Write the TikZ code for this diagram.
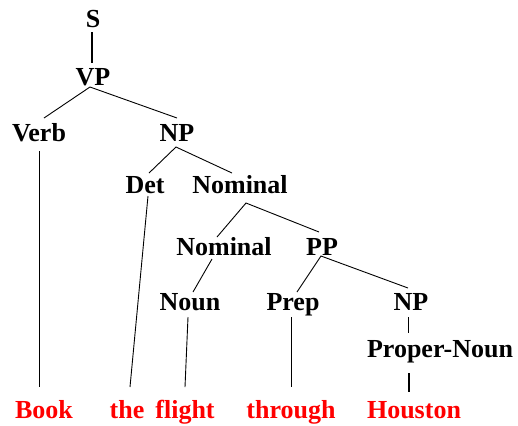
\documentclass[tikz,border=0pt]{standalone}
\usepackage{fontspec}
\setmainfont{Liberation Serif}
\begin{document}
\begin{tikzpicture}[x=1bp,y=-1bp,
  lbl/.style={anchor=base,inner sep=0pt,font=\fontsize{26.1}{30}\selectfont\bfseries},
  word/.style={lbl,text=red},
  edge/.style={line width=0.9bp,black},
  thick edge/.style={line width=1.8bp,black}]
\useasboundingbox (0,0) rectangle (518,425);
% labels
\node[lbl] (S) at (93,27) {S};
\node[lbl] (VP) at (93,85) {VP};
\node[lbl] (Verb) at (39,141) {Verb};
\node[lbl] (NP1) at (177,141) {NP};
\node[lbl] (Det) at (145,193) {Det};
\node[lbl] (Nom1) at (240,193) {Nominal};
\node[lbl] (Nom2) at (224,255) {Nominal};
\node[lbl] (PP) at (322,255) {PP};
\node[lbl] (Noun) at (190,310) {Noun};
\node[lbl] (Prep) at (293,310) {Prep};
\node[lbl] (NP2) at (411,310) {NP};
\node[lbl] (PN) at (440,357) {Proper-Noun};
\node[word] (Book) at (44,418) {Book};
\node[word] (the) at (127,418) {the};
\node[word] (flight) at (185,418) {flight};
\node[word] (through) at (291,418) {through};
\node[word] (Houston) at (414,418) {Houston};
% connector end points
\coordinate (s1) at (92,32);   \coordinate (vp0) at (92,63);
\coordinate (vp1) at (90,87);  \coordinate (verb0) at (44,118); \coordinate (np0) at (177,118);
\coordinate (np1) at (176,147); \coordinate (det0) at (149,173); \coordinate (nom0) at (232,173);
\coordinate (verb1) at (39,151); \coordinate (book0) at (39,387);
\coordinate (det1) at (148,196); \coordinate (the0) at (130,387);
\coordinate (nom1) at (246,203); \coordinate (nomb0) at (217,237); \coordinate (pp0) at (319,232);
\coordinate (nomb1) at (212,259); \coordinate (noun0) at (193,292);
\coordinate (pp1) at (321,256); \coordinate (prep0) at (297,292); \coordinate (npb0) at (408,288);
\coordinate (noun1) at (188,317); \coordinate (flight0) at (185,387);
\coordinate (prep1) at (291,317); \coordinate (through0) at (291,387);
\coordinate (npb1) at (408,317); \coordinate (pn0) at (408,333);
\coordinate (pn1) at (409,373); \coordinate (houston0) at (409,392);
% connectors
\draw[thick edge] (s1) -- (vp0);
\draw[edge] (verb0) -- (vp1) -- (np0);
\draw[edge] (det0) -- (np1) -- (nom0);
\draw[edge] (verb1) -- (book0);
\draw[edge] (det1) -- (the0);
\draw[edge] (nomb0) -- (nom1) -- (pp0);
\draw[edge] (nomb1) -- (noun0);
\draw[edge] (prep0) -- (pp1) -- (npb0);
\draw[edge] (noun1) -- (flight0);
\draw[edge] (prep1) -- (through0);
\draw[edge] (npb1) -- (pn0);
\draw[thick edge] (pn1) -- (houston0);
\end{tikzpicture}
\end{document}
